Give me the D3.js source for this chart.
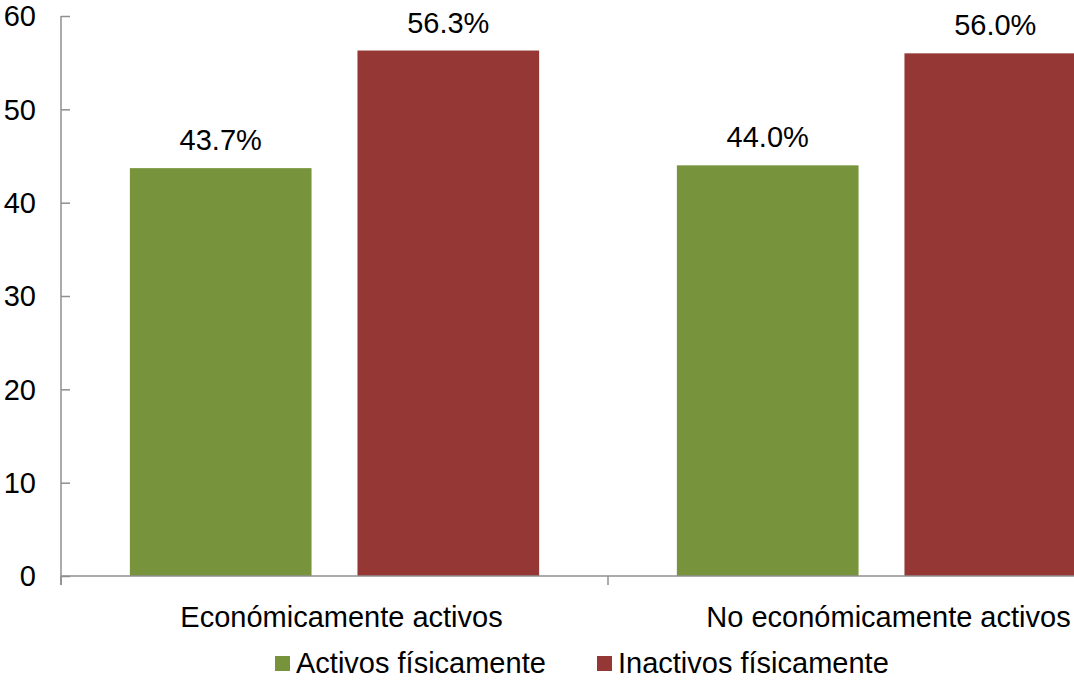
<!DOCTYPE html>
<html>
<head>
<meta charset="utf-8">
<script src="https://cdn.jsdelivr.net/npm/d3@7"></script>
<style>
  html, body { margin: 0; padding: 0; background: #fff; overflow: hidden; }
  text { font-family: "Liberation Sans", Arial, sans-serif; fill: #000; }
</style>
</head>
<body>
<svg id="chart" width="1074" height="680"></svg>
<script>
const categories = ["Económicamente activos", "No económicamente activos"];
const seriesNames = ["Activos físicamente", "Inactivos físicamente"];
const activos = [43.7, 44.0];
const inactivos = [56.3, 56.0];
const yTicks = [0, 10, 20, 30, 40, 50, 60];
const colors = ["#77933C", "#953735"];

const svg = d3.select("#chart");
const x0 = 61, bandW = 547;
const x = d3.scaleBand().domain(categories).range([x0, x0 + bandW * categories.length]).padding(0);
const xs = d3.scaleBand().domain(seriesNames).range([0, x.bandwidth()]).paddingInner(0.2018).paddingOuter(0.3026);
const y = d3.scaleLinear().domain([0, 60]).range([576, 16]);

const data = categories.map((c, i) => ({ cat: c, values: [activos[i], inactivos[i]] }));

// bars
const groups = svg.selectAll("g.cat").data(data).enter().append("g")
  .attr("transform", d => `translate(${x(d.cat)},0)`);
groups.selectAll("rect").data(d => d.values.map((v, j) => ({ s: seriesNames[j], v, j })))
  .enter().append("rect")
  .attr("x", d => xs(d.s))
  .attr("width", xs.bandwidth())
  .attr("y", d => y(d.v))
  .attr("height", d => y(0) - y(d.v))
  .attr("fill", d => colors[d.j]);
groups.selectAll("text.val").data(d => d.values.map((v, j) => ({ s: seriesNames[j], v, j })))
  .enter().append("text")
  .attr("class", "val")
  .attr("x", d => xs(d.s) + xs.bandwidth() / 2)
  .attr("y", d => y(d.v) - 18)
  .attr("text-anchor", "middle")
  .style("font-size", "29px")
  .text(d => d.v.toFixed(1) + "%");

// y axis
const axisColor = "#8f8f8f";
const yAxis = svg.append("g").attr("transform", `translate(${x0},0)`)
  .call(d3.axisRight(y).tickValues(yTicks).tickSize(9).tickFormat(""));
yAxis.select(".domain").remove();
yAxis.selectAll(".tick line").attr("stroke", axisColor).attr("stroke-width", 1.5);
svg.append("line").attr("x1", x0).attr("x2", x0).attr("y1", y(60)).attr("y2", y(0) + 9)
  .attr("stroke", axisColor).attr("stroke-width", 1.5);
svg.selectAll("text.ytick").data(yTicks).enter().append("text")
  .attr("class", "ytick")
  .attr("x", 36).attr("y", d => y(d)).attr("dy", "0.36em")
  .attr("text-anchor", "end")
  .style("font-size", "29px")
  .text(d => d);

// x axis
svg.append("line").attr("x1", x0).attr("x2", x0 + bandW * categories.length).attr("y1", y(0)).attr("y2", y(0))
  .attr("stroke", axisColor).attr("stroke-width", 1.5);
const xTickPos = d3.range(categories.length + 1).map(i => x0 + i * bandW);
svg.selectAll("line.xt").data(xTickPos).enter().append("line")
  .attr("x1", d => d).attr("x2", d => d).attr("y1", y(0)).attr("y2", y(0) + 9)
  .attr("stroke", axisColor).attr("stroke-width", 1.5);
svg.selectAll("text.cat").data(categories).enter().append("text")
  .attr("class", "cat")
  .attr("x", d => x(d) + x.bandwidth() / 2 + 7)
  .attr("y", 627)
  .attr("text-anchor", "middle")
  .style("font-size", "29px")
  .text(d => d);

// legend
const legendX = [275, 597];
const lg = svg.selectAll("g.leg").data(seriesNames).enter().append("g")
  .attr("transform", (d, i) => `translate(${legendX[i]},0)`);
lg.append("rect").attr("x", 0).attr("y", 656).attr("width", 15).attr("height", 15)
  .attr("fill", (d, i) => colors[i]);
lg.append("text").attr("x", 21).attr("y", 673).style("font-size", "29px").text(d => d);
</script>
</body>
</html>
